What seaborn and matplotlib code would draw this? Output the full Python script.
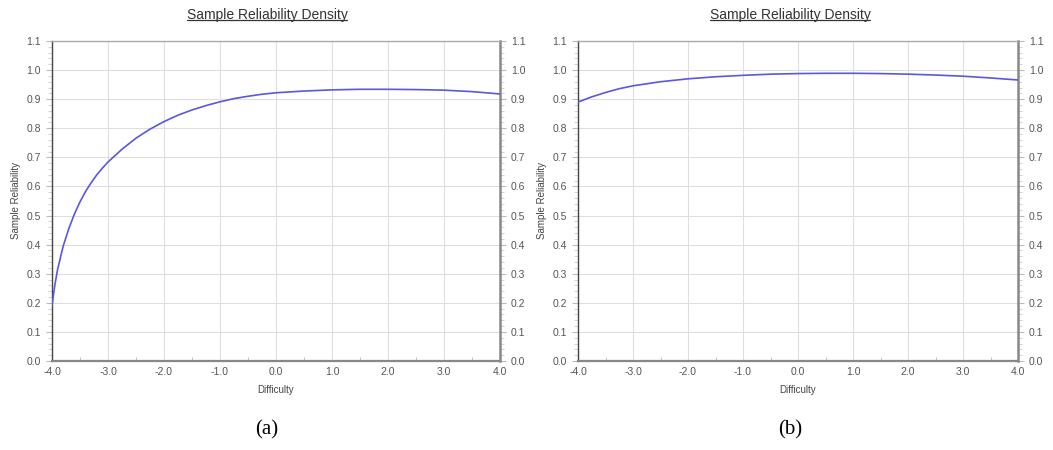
import numpy as np
import pandas as pd
import seaborn as sns
import matplotlib.pyplot as plt
from matplotlib.ticker import MultipleLocator
from matplotlib.lines import Line2D

# difficulty values
difficulty_a = [-4.0, -3.95, -3.9, -3.8, -3.7, -3.6, -3.5, -3.4, -3.3, -3.2, -3.1, -3.0,
                -2.75, -2.5, -2.25, -2.0, -1.75, -1.5, -1.25, -1.0, -0.75, -0.5, -0.25,
                0.0, 0.5, 1.0, 1.5, 2.0, 2.5, 3.0, 3.5, 4.0]
reliability_a = [0.19, 0.26, 0.315, 0.395, 0.455, 0.505, 0.547, 0.583, 0.613, 0.64, 0.663, 0.684,
                 0.728, 0.766, 0.797, 0.823, 0.845, 0.863, 0.878, 0.891, 0.902, 0.91, 0.917,
                 0.922, 0.928, 0.932, 0.934, 0.934, 0.933, 0.931, 0.926, 0.918]

difficulty_b = [-4.0, -3.75, -3.5, -3.25, -3.0, -2.5, -2.0, -1.5, -1.0, -0.5,
                0.0, 0.5, 1.0, 1.5, 2.0, 2.5, 3.0, 3.5, 4.0]
reliability_b = [0.89, 0.908, 0.923, 0.936, 0.946, 0.96, 0.97, 0.977, 0.982, 0.986,
                 0.988, 0.989, 0.989, 0.988, 0.986, 0.983, 0.979, 0.973, 0.966]

x_ticks = [-4.0, -3.0, -2.0, -1.0, 0.0, 1.0, 2.0, 3.0, 4.0]
y_ticks = [0.0, 0.1, 0.2, 0.3, 0.4, 0.5, 0.6, 0.7, 0.8, 0.9, 1.0, 1.1]
title = 'Sample Reliability Density'
panel_labels = ['(a)', '(b)']

sns.set_style('white')
plt.rcParams['font.family'] = ['Liberation Sans', 'DejaVu Sans']

fig = plt.figure(figsize=(10.53, 4.5), dpi=100)
ax_a = fig.add_axes([52 / 1053, 1 - 361 / 450, 448 / 1053, 320 / 450])
ax_b = fig.add_axes([578 / 1053, 1 - 361 / 450, 440 / 1053, 320 / 450])

tick_col = '#555555'


def draw_panel(ax, xs, ys, label, cx):
    df = pd.DataFrame({'Difficulty': xs, 'Sample Reliability': ys})
    sns.lineplot(data=df, x='Difficulty', y='Sample Reliability', ax=ax,
                 color='#5858e2', linewidth=1.2, zorder=3)
    ax.set_xlim(-4, 4)
    ax.set_ylim(0, 1.1)
    ax.set_xticks(x_ticks)
    ax.set_xticklabels(['%.1f' % t for t in x_ticks])
    ax.set_yticks(y_ticks)
    ax.set_yticklabels(['%.1f' % t for t in y_ticks])
    ax.xaxis.set_minor_locator(MultipleLocator(0.5))
    ax.yaxis.set_minor_locator(MultipleLocator(0.02))
    ax.grid(True, which='major', color='#dedede', linewidth=0.8)
    ax.tick_params(axis='both', which='major', labelsize=7.5, colors=tick_col,
                   length=0, pad=4)
    ax.tick_params(axis='y', which='both', left=True, right=True,
                   labelleft=True, labelright=True)
    ax.tick_params(axis='y', which='major', length=4, color='#bbbbbb', direction='out')
    ax.tick_params(axis='y', which='minor', length=3, color='#cccccc', direction='out')
    ax.tick_params(axis='x', which='minor', length=3, color='#bbbbbb', direction='in',
                   bottom=True)
    ax.tick_params(axis='x', which='major', bottom=False)
    ax.set_xlabel('Difficulty', fontsize=7, color='#444444', labelpad=6)
    ax.set_ylabel('Sample Reliability', fontsize=7, color='#444444', labelpad=4)
    ax.spines['left'].set_color('#444444')
    ax.spines['left'].set_linewidth(1.0)
    ax.spines['top'].set_color('#aaaaaa')
    ax.spines['top'].set_linewidth(1.0)
    ax.spines['bottom'].set_color('#888888')
    ax.spines['bottom'].set_linewidth(1.6)
    ax.spines['right'].set_color('#888888')
    ax.spines['right'].set_linewidth(1.8)
    for s in ax.spines.values():
        s.set_visible(True)

    t = fig.text(cx / 1053, 1 - 15 / 450, title, ha='center', va='center',
                 fontsize=10, color='#333333')
    fig.canvas.draw()
    bb = t.get_window_extent(renderer=fig.canvas.get_renderer())
    bb = bb.transformed(fig.transFigure.inverted())
    fig.add_artist(Line2D([bb.x0, bb.x1], [bb.y0 + 0.004, bb.y0 + 0.004],
                          transform=fig.transFigure, color='#333333', linewidth=0.9))
    fig.text(cx / 1053, 1 - 430 / 450, label, ha='center', va='center',
             fontsize=15, family=['Liberation Serif', 'DejaVu Serif'], color='black')


draw_panel(ax_a, difficulty_a, reliability_a, panel_labels[0], 267)
draw_panel(ax_b, difficulty_b, reliability_b, panel_labels[1], 790)

fig.savefig('out.png', dpi=100, facecolor='white')
